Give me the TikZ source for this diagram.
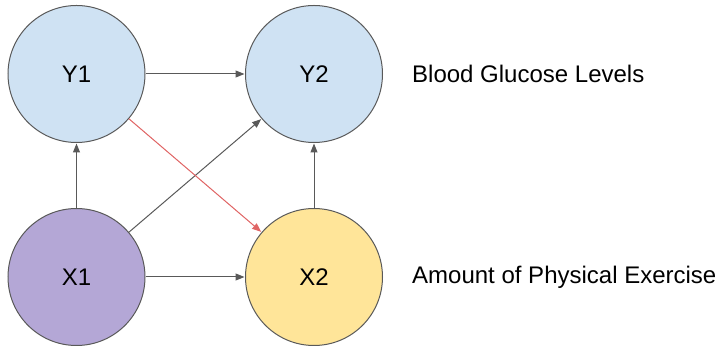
\documentclass[tikz,border=0pt]{standalone}
\usepackage{tikz}
\usepackage{xcolor}
\usepackage{fontspec}
\setmainfont{Liberation Sans}
\usetikzlibrary{arrows.meta}
\definecolor{edgegrey}{HTML}{595959}
\definecolor{glucoseblue}{HTML}{CFE2F3}
\definecolor{exercisepurple}{HTML}{B4A7D6}
\definecolor{exerciseyellow}{HTML}{FFE599}
\definecolor{crossred}{HTML}{E06666}

\begin{document}
\begin{tikzpicture}[x=1pt, y=1pt,
    var/.style={circle, draw=edgegrey, line width=1pt, minimum size=137pt, inner sep=0pt, font=\fontsize{24}{28}\selectfont},
    link/.style={draw=edgegrey, line width=1pt, -{Triangle[length=9pt, width=7pt]}, shorten >=0.5pt}]
                \useasboundingbox (0, 0) rectangle (725, 347);
                \node[var, fill=glucoseblue] (y1) at (76.5, 273) {Y1};
                \node[var, fill=glucoseblue] (y2) at (314, 273) {Y2};
                \node[var, fill=exercisepurple] (x1) at (76.5, 70) {X1};
                \node[var, fill=exerciseyellow] (x2) at (314, 70) {X2};
                \node[anchor=west, inner sep=0pt, font=\fontsize{24}{28}\selectfont] (glucose) at (412, 273) {Blood Glucose Levels};
                \node[anchor=west, inner sep=0pt, font=\fontsize{24}{28}\selectfont] (exercise) at (412, 70) {Amount of Physical Exercise};
                \draw[link] (y1) -- (y2);
                \draw[link] (x1) -- (x2);
                \draw[link] (x1) -- (y1);
                \draw[link] (x2) -- (y2);
                \draw[link] (x1) -- (y2);
                \draw[link, draw=crossred, fill=crossred] (y1) -- (x2);
            \end{tikzpicture}
\end{document}
